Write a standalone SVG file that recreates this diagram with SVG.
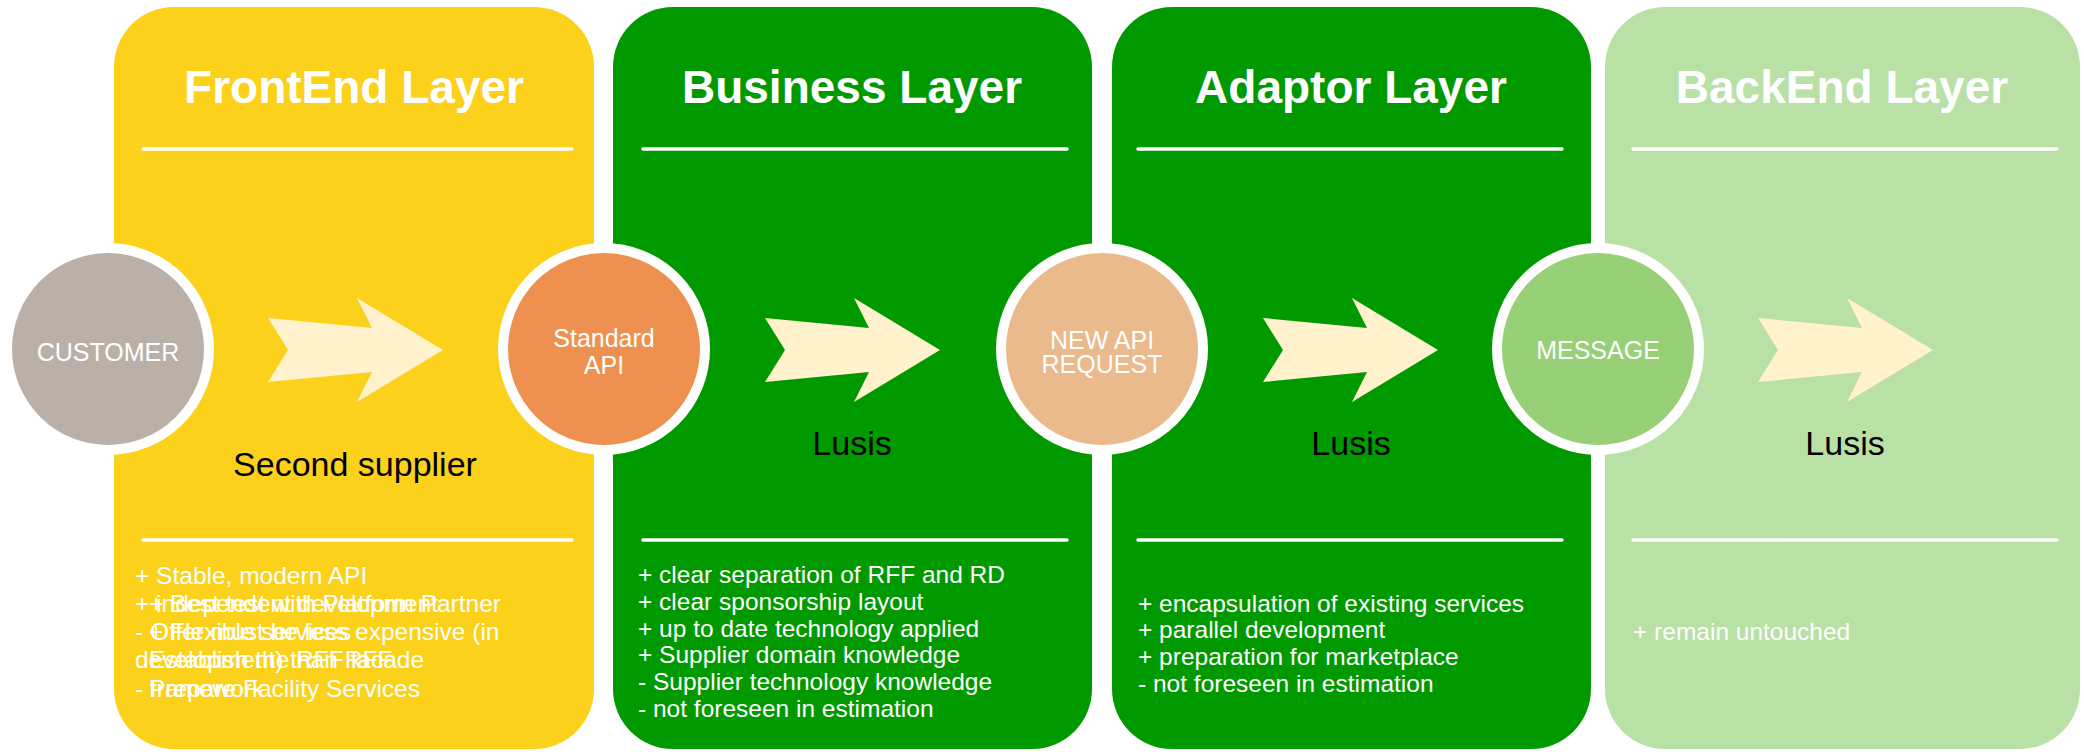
<svg xmlns="http://www.w3.org/2000/svg" width="2084" height="752" viewBox="0 0 2084 752">
<defs>
<style>
.title{font-family:"Liberation Sans",Arial,sans-serif;font-weight:bold;font-size:46px;fill:#fff;text-anchor:middle}
.sep{stroke:#fff;stroke-width:3.5;stroke-linecap:round}
.lbl{font-family:"Liberation Sans",Arial,sans-serif;font-size:25px;fill:#fff;text-anchor:middle}
.note{font-family:"Liberation Sans",Arial,sans-serif;font-size:24.5px;fill:#fff}
.cap{font-family:"Liberation Sans",Arial,sans-serif;font-size:34px;fill:#000;text-anchor:middle}
.arrow{fill:#FFF2CC}
.ring{stroke:#fff;stroke-width:10}
</style>
<path id="arr" d="M0,-32 L104,-22 L89,-52 L175,0 L89,52 L104,22 L0,32 L20,0 Z"/>
</defs>
<rect width="2084" height="752" fill="#fff"/>

<g id="frontend">
<rect x="114" y="7" width="480" height="742" rx="60" ry="60" fill="#FCD11B"/>
<text class="title" x="354" y="103">FrontEnd Layer</text>
<line class="sep" x1="143" y1="149" x2="572" y2="149"/>
<line class="sep" x1="143" y1="540" x2="572" y2="540"/>
<text class="cap" x="355" y="476">Second supplier</text>
<text class="note"><tspan x="135" y="584">+ Stable, modern API</tspan><tspan x="135" y="612">+ independent development</tspan><tspan x="135" y="640">- Offer must be less expensive (in</tspan><tspan x="135" y="668">development) than RFF</tspan><tspan x="135" y="697">- framework</tspan></text>
<text class="note"><tspan x="149" y="612">+ Best test with Platform Partner</tspan><tspan x="149" y="640">+ Flexible services</tspan><tspan x="149" y="668">Establish the RFF facade</tspan><tspan x="149" y="697">Prepare Facility Services</tspan></text>
</g>

<g id="business">
<rect x="613" y="7" width="479" height="742" rx="60" ry="60" fill="#009900"/>
<text class="title" x="852" y="103">Business Layer</text>
<line class="sep" x1="643" y1="149" x2="1067" y2="149"/>
<line class="sep" x1="643" y1="540" x2="1067" y2="540"/>
<text class="cap" x="852" y="455">Lusis</text>
<text class="note"><tspan x="638" y="583">+ clear separation of RFF and RD</tspan><tspan x="638" y="610">+ clear sponsorship layout</tspan><tspan x="638" y="637">+ up to date technology applied</tspan><tspan x="638" y="663">+ Supplier domain knowledge</tspan><tspan x="638" y="690">- Supplier technology knowledge</tspan><tspan x="638" y="717">- not foreseen in estimation</tspan></text>
</g>

<g id="adaptor">
<rect x="1112" y="7" width="479" height="742" rx="60" ry="60" fill="#009900"/>
<text class="title" x="1351" y="103">Adaptor Layer</text>
<line class="sep" x1="1138" y1="149" x2="1562" y2="149"/>
<line class="sep" x1="1138" y1="540" x2="1562" y2="540"/>
<text class="cap" x="1351" y="455">Lusis</text>
<text class="note"><tspan x="1138" y="612">+ encapsulation of existing services</tspan><tspan x="1138" y="638">+ parallel development</tspan><tspan x="1138" y="665">+ preparation for marketplace</tspan><tspan x="1138" y="692">- not foreseen in estimation</tspan></text>
</g>

<g id="backend">
<rect x="1605" y="7" width="475" height="742" rx="60" ry="60" fill="#B9E0A5"/>
<text class="title" x="1842" y="103">BackEnd Layer</text>
<line class="sep" x1="1633" y1="149" x2="2057" y2="149"/>
<line class="sep" x1="1633" y1="540" x2="2057" y2="540"/>
<text class="cap" x="1845" y="455">Lusis</text>
<text class="note" x="1633" y="640">+ remain untouched</text>
</g>

<g id="connectors">
<use href="#arr" class="arrow" x="268" y="350"/>
<use href="#arr" class="arrow" x="765" y="350"/>
<use href="#arr" class="arrow" x="1263" y="350"/>
<use href="#arr" class="arrow" x="1758" y="350"/>
</g>

<g id="customer">
<circle class="ring" cx="108" cy="349" r="101" fill="#BAB0A8"/>
<text class="lbl" x="108" y="361">CUSTOMER</text>
</g>
<g id="standard-api">
<circle class="ring" cx="604" cy="349" r="101" fill="#EE9150"/>
<text class="lbl" x="604" y="347">Standard</text>
<text class="lbl" x="604" y="374">API</text>
</g>
<g id="new-api-request">
<circle class="ring" cx="1102" cy="349" r="101" fill="#EAB98C"/>
<text class="lbl" x="1102" y="349">NEW API</text>
<text class="lbl" x="1102" y="373">REQUEST</text>
</g>
<g id="message">
<circle class="ring" cx="1598" cy="349" r="101" fill="#97D077"/>
<text class="lbl" x="1598" y="359">MESSAGE</text>
</g>
</svg>
